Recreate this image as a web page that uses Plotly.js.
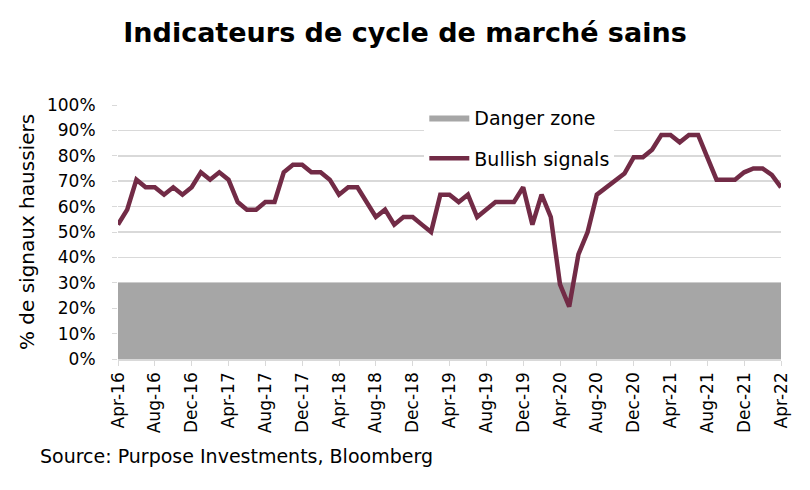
<!DOCTYPE html>
<html>
<head>
<meta charset="utf-8">
<script src="https://cdn.plot.ly/plotly-3.0.1.min.js"></script>
<style>html,body{margin:0;padding:0;background:#fff;}#chart{width:810px;height:490px;}</style>
</head>
<body>
<div id="chart"></div>
<script>
const months = ['Apr-16','May-16','Jun-16','Jul-16','Aug-16','Sep-16','Oct-16','Nov-16','Dec-16','Jan-17','Feb-17','Mar-17',
'Apr-17','May-17','Jun-17','Jul-17','Aug-17','Sep-17','Oct-17','Nov-17','Dec-17','Jan-18','Feb-18','Mar-18',
'Apr-18','May-18','Jun-18','Jul-18','Aug-18','Sep-18','Oct-18','Nov-18','Dec-18','Jan-19','Feb-19','Mar-19',
'Apr-19','May-19','Jun-19','Jul-19','Aug-19','Sep-19','Oct-19','Nov-19','Dec-19','Jan-20','Feb-20','Mar-20',
'Apr-20','May-20','Jun-20','Jul-20','Aug-20','Sep-20','Oct-20','Nov-20','Dec-20','Jan-21','Feb-21','Mar-21',
'Apr-21','May-21','Jun-21','Jul-21','Aug-21','Sep-21','Oct-21','Nov-21','Dec-21','Jan-22','Feb-22','Mar-22',
'Apr-22'];
const bullishSignals = [52.9,58.8,70.6,67.6,67.6,64.7,67.6,64.7,67.6,73.5,70.6,73.5,
70.6,61.8,58.8,58.8,61.8,61.8,73.5,76.5,76.5,73.5,73.5,70.6,
64.7,67.6,67.6,61.8,55.9,58.8,52.9,55.9,55.9,52.9,50.0,64.7,
64.7,61.8,64.7,55.9,58.8,61.8,61.8,61.8,67.6,52.9,64.7,55.9,
29.4,20.6,41.2,50.0,64.7,67.6,70.6,73.0,79.4,79.4,82.4,88.2,
88.2,85.3,88.2,88.2,79.4,70.6,70.6,70.6,73.5,75.0,75.0,72.5,
67.6];
const dangerX = ['Apr-16','Apr-22'];
const dangerLevel = [30, 30];
const tickLabels = ['Apr-16','Aug-16','Dec-16','Apr-17','Aug-17','Dec-17','Apr-18','Aug-18','Dec-18',
'Apr-19','Aug-19','Dec-19','Apr-20','Aug-20','Dec-20','Apr-21','Aug-21','Dec-21','Apr-22'];

const FONT = 'DejaVu Sans, sans-serif';
const traces = [
  {x: dangerX, y: dangerLevel.map(v => v/100), type: 'scatter', mode: 'lines', name: 'Danger zone',
   fill: 'tozeroy', fillcolor: '#a6a6a6', line: {width: 0, color: '#a6a6a6'}, legendgroup: 'a', hoverinfo: 'skip'},
  {x: months, y: bullishSignals.map(v => v/100), type: 'scatter', mode: 'lines', name: 'Bullish signals',
   line: {color: '#722b46', width: 4.5}, legendgroup: 'b'}
];
const layout = {
  width: 810, height: 490,
  margin: {l: 118, r: 29, t: 105, b: 131},
  paper_bgcolor: '#fff', plot_bgcolor: '#fff',
  font: {family: FONT, color: '#000'},
  title: {text: '<b>Indicateurs de cycle de marché sains</b>', x: 0.5, xref: 'container', xanchor: 'center',
          y: 1 - 33/490, yref: 'container', yanchor: 'middle', font: {family: FONT, size: 27, color: '#000'}},
  xaxis: {type: 'category', categoryorder: 'array', categoryarray: months, range: [0, 72],
          tickmode: 'array', tickvals: tickLabels, ticktext: tickLabels, tickangle: -90,
          showgrid: false, showline: true, linecolor: '#d9d9d9', linewidth: 1.5,
          ticks: 'outside', ticklen: 5, tickcolor: '#d9d9d9', tickfont: {size: 17, color: '#000'}, fixedrange: true},
  yaxis: {range: [0, 1], dtick: 0.1, tickformat: '.0%', showgrid: true, gridcolor: '#d9d9d9', gridwidth: 1.5,
          zeroline: false, ticks: 'outside', ticklen: 5, tickcolor: '#d9d9d9', ticklabelstandoff: 13,
          tickfont: {size: 17, color: '#000'},
          title: {text: '% de signaux haussiers', font: {size: 20, color: '#000'}, standoff: 6}, fixedrange: true},
  showlegend: true,
  legend: {x: 0.462, y: 1.025, xanchor: 'left', yanchor: 'top', bgcolor: '#fff', traceorder: 'grouped',
           tracegroupgap: 13, itemwidth: 40, font: {size: 19, color: '#000'}},
  annotations: [{text: 'Source: Purpose Investments, Bloomberg', xref: 'paper', yref: 'paper',
                 x: -0.1207, y: (358.7-455)/253, xanchor: 'left', yanchor: 'middle', showarrow: false,
                 font: {size: 19, color: '#000'}}]
};
Plotly.newPlot('chart', traces, layout, {displayModeBar: false, staticPlot: true});
</script>
</body>
</html>
